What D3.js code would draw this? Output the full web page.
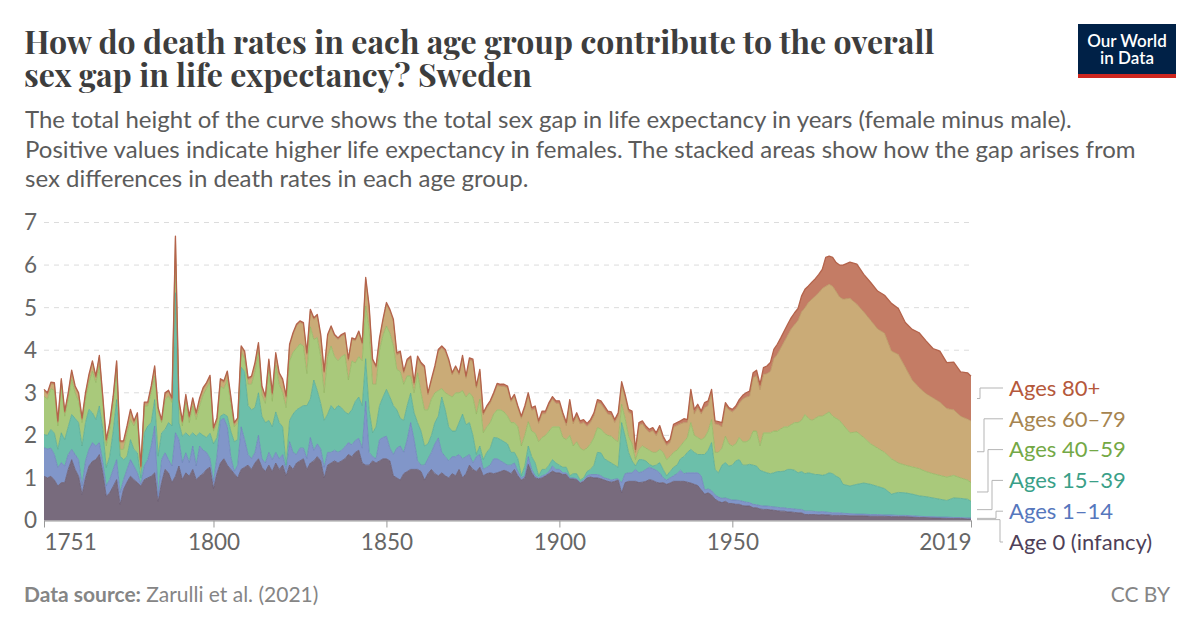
<!DOCTYPE html>
<html>
<head>
<meta charset="utf-8">
<script src="https://cdn.jsdelivr.net/npm/d3@7"></script>
<style>
  body { margin: 0; background: #fff; }
  svg text { font-family: Lato, "Noto Sans", sans-serif; }
</style>
</head>
<body>
<svg id="chart" width="1200" height="628"></svg>
<script>
// years: one value per year up to 1981, then every second year
var years = d3.range(1751, 1982).concat([1982, 1984, 1986, 1988, 1990, 1992, 1994, 1996, 1998, 2000,
  2002, 2004, 2006, 2008, 2010, 2012, 2014, 2016, 2018, 2019]);

// contribution to the gap (years), per age group
var age0 = [
  1.04,1.0,1.04,.95,.81,.89,.89,1.2,1.43,1.2,
  1.04,.61,1.0,1.28,1.39,1.43,1.55,1.12,.57,.65,
  .8,.96,.38,.73,.9,1.04,.96,.89,.81,.96,
  1.0,1.04,1.12,.45,.89,1.2,1.12,.89,1.04,1.28,
  .96,1.12,1.04,1.2,.96,1.04,1.1,1.2,1.25,.75,
  1.1,1.35,1.45,1.3,1.2,1.1,1.0,1.2,1.25,1.3,
  1.2,1.35,1.45,1.25,1.15,1.3,1.15,1.35,1.2,1.3,
  1.05,1.3,1.2,1.35,1.4,1.45,1.2,1.35,1.4,1.5,
  1.4,1.0,1.3,1.35,1.4,1.35,1.4,1.45,1.55,1.5,
  1.6,1.65,1.35,1.3,1.3,1.4,1.35,1.4,1.45,1.45,
  1.4,1.05,1.0,.95,1.1,1.15,1.2,1.2,1.2,1.15,
  .95,1.1,1.2,1.1,1.05,1.12,1.05,1.0,1.1,1.05,
  1.2,1.0,1.1,1.3,1.2,1.15,1.25,1.05,1.1,1.12,
  1.1,1.12,1.15,1.18,1.15,1.1,1.2,1.05,.95,1.0,
  1.32,1.12,1.0,.98,1.0,1.05,1.1,1.16,1.12,1.12,
  1.08,1.08,.98,.98,.96,.88,.92,1.0,1.02,1.0,
  1.0,.98,.95,.92,.9,.92,.95,.65,.89,.92,
  .92,.92,.89,.9,.92,.96,.94,.9,.88,.89,
  .85,.88,.92,.92,.92,.92,.9,.88,.85,.82,
  .72,.62,.65,.6,.5,.45,.42,.45,.4,.4,
  .38,.38,.35,.34,.34,.3,.3,.27,.26,.26,
  .25,.24,.23,.22,.22,.2,.2,.19,.18,.18,
  .14,.14,.14,.14,.13,.14,.13,.13,.12,.12,.12,
  .12,.11,.11,.11,.1,.1,.1,.09,.09,.09,.08,.07,.07,.06,.06,.05,.05,.05,.04,.04
];
var age1to14 = [
  .67,.68,.66,.6,.43,.47,.39,.35,.24,.35,
  .39,.2,.4,.39,.44,.32,.28,.24,.24,.31,
  .4,.47,.27,.23,.3,.39,.32,.23,.04,.32,
  .43,.71,1.1,.12,.54,.39,.31,.39,1.02,.62,
  .4,.47,.32,.55,.32,.71,.55,.4,.2,.15,
  .4,1.0,.95,.9,.3,.05,.3,1.0,.65,.25,
  .25,.25,.55,.2,.2,.3,.28,.25,.25,.25,
  .15,.55,.4,.2,.3,.25,.25,.6,.25,.3,
  .28,.25,.3,.25,.25,.25,.25,.28,.28,.28,
  .28,.28,.35,1.5,.3,.1,.1,.5,.5,.53,
  .3,.5,.7,.8,.5,.75,1.1,.7,.2,.15,
  .35,.35,.4,.7,.89,.48,.45,.4,.4,.45,
  .35,.45,.4,.25,.15,.35,.3,.15,.15,.18,
  .35,.33,.25,.17,.15,.2,.15,.1,.05,.05,
  .18,.08,.05,.02,.05,.03,.05,.12,.08,.08,
  .04,.04,.02,.02,.02,.02,.03,.05,.06,.08,
  .08,.07,.05,.06,.05,.05,.03,.24,.21,.2,
  .2,.28,.23,.25,.28,.29,.28,.28,.24,.11,
  .1,.12,.13,.18,.26,.18,.22,.24,.27,.3,
  .33,.1,.09,.1,.1,.1,.1,.08,.1,.08,
  .1,.09,.1,.09,.08,.08,.07,.08,.08,.08,
  .08,.08,.08,.08,.08,.08,.08,.08,.08,.08,
  .08,.08,.08,.07,.07,.07,.07,.06,.06,.06,.06,
  .05,.05,.04,.04,.04,.04,.03,.04,.03,.03,.03,.03,.02,.03,.02,.03,.02,.02,.02,.02
];
var age15to39 = [
  .31,.32,.44,.5,.43,.7,.62,.65,.82,.85,
  .87,.94,.9,.94,.7,.62,.86,.78,.43,.55,
  .9,1.41,.86,.47,.3,.47,.39,.47,.15,.78,
  .79,.55,.62,.94,.63,.55,.87,.94,3.29,.4,
  .62,.47,.62,.31,.7,.31,.35,.35,.6,.9,
  .45,.1,.1,.25,.6,.7,.6,1.4,1.6,1.15,
  1.15,1.05,1.0,1.0,.95,.75,.77,.95,.85,.65,
  .1,.5,.9,1.05,.95,1.0,1.25,.9,1.65,1.25,
  1.07,1.1,.9,1.1,.95,1.1,1.0,.82,.67,.82,
  .92,.97,1.0,1.0,1.0,.56,.75,.8,.95,1.1,
  1.2,1.15,.9,.65,.75,.8,.69,.63,.9,.8,
  .45,.35,.4,.5,.51,1.3,1.1,.8,.6,.6,
  .75,1.05,.75,.75,.65,.05,.2,.23,.35,.4,
  .5,.49,.5,.5,.5,.3,.25,.3,.05,.23,
  .25,.3,.3,.05,.15,.12,.15,.15,.15,.1,
  .13,.13,.05,.1,.12,.05,.05,.1,.12,.22,
  .52,.54,.45,.42,.4,.33,.27,1.41,.88,.48,
  .28,.08,.31,.28,.2,.07,.06,.12,.24,.2,
  .1,.15,.2,.2,.27,.4,.48,.55,.48,.43,
  .5,.83,.91,1.13,.6,.57,.78,.83,.78,.82,
  .92,.96,.85,.87,.9,.92,.91,.83,.81,.78,
  .77,.8,.84,.85,.86,.92,.92,.91,.86,.89,
  .88,.9,.88,.87,.88,.85,.88,.93,.92,.86,.82,
  .68,.65,.7,.73,.71,.66,.62,.49,.54,.53,.51,.48,.47,.44,.42,.39,.46,.45,.44,.39
];
var age40to59 = [
  .9,.85,.96,1.0,.55,1.1,.55,.65,.82,.6,
  .5,.55,.55,.63,.98,.87,.94,.63,.51,.63,
  .65,.71,.16,.24,.55,.47,.55,.82,.2,.63,
  .47,.7,.55,1.02,.24,.7,.62,.55,.9,.39,
  .24,.71,.32,.63,.39,.63,.95,1.15,1.2,.3,
  .35,.7,.6,.85,.65,.35,.4,.35,.3,.5,
  .6,.85,.95,.5,.45,1.2,.6,1.1,.9,.8,
  1.35,1.4,1.45,1.45,1.5,1.4,.75,1.7,.95,1.25,
  1.1,.65,1.35,1.4,1.25,1.05,1.2,1.35,.8,1.15,
  .9,.95,1.05,1.24,1.9,1.14,1.0,1.3,1.45,1.49,
  1.5,1.4,.95,1.1,.85,.7,.4,.47,1.17,.9,
  .85,.8,.85,.7,.6,.2,.4,.75,.8,.9,
  .7,.55,.65,.7,.9,.95,1.1,.63,.6,.6,
  .55,.66,.7,.7,.65,.7,.7,.75,.7,.72,
  .57,.6,.7,.8,.75,.8,.8,.77,.85,.9,
  .7,.65,.95,.65,.75,.75,.65,.55,.6,.65,
  .58,.56,.6,.6,.63,.6,.6,.43,.42,.38,
  .4,.15,.24,.32,.3,.33,.32,.3,.31,.4,
  .38,.35,.35,.35,.3,.35,.35,.63,.4,.4,
  .35,.4,.45,.54,.4,.48,.4,.62,.52,.45,
  .4,.52,.55,.55,.58,.8,.82,.57,.91,.94,
  .96,.98,.95,1.0,1.04,1.0,1.05,1.12,1.18,1.2,
  1.39,1.28,1.25,1.32,1.37,1.39,1.42,1.43,1.35,1.36,1.35,
  1.4,1.25,1.23,1.07,.95,.9,.85,.83,.69,.65,.64,.64,.59,.57,.56,.55,.53,.48,.45,.44
];
var age60to79 = [
  .12,.11,.11,.15,.08,.13,.08,.11,.18,.12,
  .16,.07,.11,.15,.2,.11,.21,.11,.11,.12,
  .13,.16,.16,.16,.13,.2,.08,.08,.04,.05,
  .05,.12,.2,.08,.03,.12,.1,.07,.39,.11,
  .08,.15,.11,.15,.12,.15,.13,.1,.12,.04,
  .07,.14,.14,.17,.13,.06,.07,.11,.14,.11,
  .15,.17,.19,.17,.13,.2,.16,.25,.23,.28,
  .24,.35,.42,.52,.5,.51,.45,.37,.47,.5,
  .48,.47,.48,.43,.48,.5,.48,.47,.46,.5,
  .52,.56,.39,.63,.5,.55,.39,.25,.34,.51,
  .51,.58,.34,.43,.26,.34,.42,.19,.34,.66,
  .98,.35,.42,.58,.92,.95,.97,.79,.52,.58,
  .42,.78,.44,.77,.84,.61,.65,.42,.44,.46,
  .45,.57,.55,.6,.66,.49,.61,.44,.65,.63,
  .62,.49,.58,.43,.56,.51,.61,.65,.55,.55,
  .51,.33,.77,.52,.61,.57,.65,.51,.5,.51,
  .59,.59,.57,.5,.5,.4,.61,.46,.49,.56,
  .7,.17,.56,.52,.45,.42,.51,.39,.49,.31,
  .33,.33,.59,.58,.52,.45,.35,.7,.5,.7,
  .6,.7,.6,.63,.67,.65,.5,.71,.8,.8,
  .82,.8,1.0,1.05,1.02,1.25,1.3,1.32,1.37,1.39,
  1.44,1.7,1.8,1.9,2.0,2.15,2.25,2.3,2.4,2.55,
  2.51,2.72,2.85,2.87,2.9,3.0,3.0,3.0,3.05,2.98,2.9,
  2.95,3.16,3.0,2.95,2.9,2.8,2.8,2.53,2.55,2.3,2.04,1.9,1.83,1.78,1.72,1.61,1.54,1.45,1.43,1.45
];
var age80plus = [
  .04,.04,.04,.04,.04,.04,.04,.04,.04,.04,
  .04,.04,.04,.04,.04,.04,.04,.04,.04,.04,
  .04,.04,.04,.04,.04,.04,.04,.04,.04,.04,
  .04,.04,.04,.04,.04,.04,.04,.04,.04,.04,
  .04,.04,.04,.04,.04,.04,.04,.04,.04,.04,
  .04,.04,.04,.04,.04,.04,.04,.04,.04,.04,
  .04,.04,.04,.04,.04,.04,.04,.04,.04,.04,
  .04,.04,.04,.04,.04,.04,.04,.04,.04,.04,
  .04,.04,.04,.04,.04,.04,.04,.04,.04,.04,
  .04,.04,.04,.04,.04,.04,.04,.04,.04,.04,
  .05,.05,.05,.05,.05,.05,.05,.05,.05,.05,
  .05,.05,.05,.05,.05,.05,.05,.05,.05,.05,
  .05,.05,.05,.05,.05,.05,.05,.05,.05,.05,
  .05,.05,.05,.05,.05,.05,.05,.05,.05,.06,
  .06,.06,.06,.06,.06,.06,.06,.06,.06,.06,
  .07,.07,.07,.07,.07,.07,.07,.07,.07,.07,
  .07,.07,.07,.07,.07,.07,.07,.07,.07,.07,
  .07,.07,.07,.07,.07,.07,.07,.07,.07,.07,
  .07,.07,.07,.07,.07,.09,.07,.08,.11,.08,
  .07,.12,.11,.08,.07,.07,.1,.08,.05,.06,
  .07,.09,.09,.1,.12,.12,.13,.13,.16,.18,
  .21,.22,.24,.24,.25,.26,.26,.28,.28,.37,
  .43,.39,.4,.41,.43,.45,.68,.66,.68,.68,.75,
  .8,.85,.94,.88,.89,.89,.89,1.12,1.08,1.05,1.19,1.29,1.24,1.16,1.2,1.08,1.12,1.04,1.09,1.05
];

var groupNames = ["Age 0 (infancy)", "Ages 1\u201314", "Ages 15\u201339", "Ages 40\u201359", "Ages 60\u201379", "Ages 80+"];
var yTicks = [0, 1, 2, 3, 4, 5, 6, 7];
var xTicks = [1751, 1800, 1850, 1900, 1950, 2019];

var keys = ["a0", "a1", "a15", "a40", "a60", "a80"];
var fills = ["#786b7d", "#8196c9", "#6cbfaa", "#a9c97b", "#caab77", "#c47c65"];
var strokes = ["#695b6e", "#6e83bb", "#58ab95", "#93b763", "#b8945f", "#b4634b"];
var labelColors = ["#4f3f58", "#5677bd", "#3a9f88", "#74a845", "#a6844f", "#b5583b"];

var table = years.map(function(yr, i) {
  return {
    year: yr,
    a0: age0[i],
    a1: age1to14[i],
    a15: age15to39[i],
    a40: age40to59[i],
    a60: age60to79[i],
    a80: age80plus[i]
  };
});

var svg = d3.select("#chart");

var plotLeft = 44, plotRight = 971, plotTop = 222.5, plotBottom = 520.5;

var x = d3.scaleLinear().domain([1751, 2019]).range([plotLeft, plotRight]);
var y = d3.scaleLinear().domain([0, 7]).range([plotBottom, plotTop]);

// title + subtitle
var title = svg.append("text")
  .style("font-family", "'Playfair Display', 'Liberation Serif', serif")
  .style("font-size", "32px")
  .style("font-weight", "700")
  .style("fill", "#3d3d3d");
title.append("tspan").attr("x", 24).attr("y", 54).text("How do death rates in each age group contribute to the overall");
title.append("tspan").attr("x", 24).attr("y", 87).text("sex gap in life expectancy? Sweden");

var subLines = [
  "The total height of the curve shows the total sex gap in life expectancy in years (female minus male).",
  "Positive values indicate higher life expectancy in females. The stacked areas show how the gap arises from",
  "sex differences in death rates in each age group."
];
svg.selectAll(".sub")
  .data(subLines)
  .enter()
  .append("text")
  .attr("class", "sub")
  .attr("x", 25)
  .attr("y", function(d, i) { return 128 + i * 29.5; })
  .style("font-size", "24px")
  .style("fill", "#5b5b5b")
  .text(function(d) { return d; });

// logo
var logo = svg.append("g");
logo.append("rect").attr("x", 1078).attr("y", 24).attr("width", 98).attr("height", 54).attr("fill", "#002147");
logo.append("rect").attr("x", 1078).attr("y", 74).attr("width", 98).attr("height", 4).attr("fill", "#ce261e");
logo.append("text").attr("x", 1127).attr("y", 46.5).attr("text-anchor", "middle")
  .style("font-size", "17px").style("font-weight", "600").style("fill", "#fff").text("Our World");
logo.append("text").attr("x", 1127).attr("y", 64).attr("text-anchor", "middle")
  .style("font-size", "17px").style("font-weight", "600").style("fill", "#fff").text("in Data");

// gridlines + y labels
svg.append("g")
  .selectAll("line")
  .data(yTicks.filter(function(d) { return d > 0; }))
  .enter()
  .append("line")
  .attr("x1", plotLeft)
  .attr("x2", plotRight)
  .attr("y1", function(d) { return y(d); })
  .attr("y2", function(d) { return y(d); })
  .attr("stroke", "#dcdcdc")
  .attr("stroke-dasharray", "5,5");

svg.append("g")
  .selectAll("text")
  .data(yTicks)
  .enter()
  .append("text")
  .attr("x", 24)
  .attr("y", function(d) { return y(d); })
  .attr("dy", "0.35em")
  .style("font-size", "22.5px")
  .style("fill", "#666")
  .text(function(d) { return d; });

// stacked areas
var series = d3.stack().keys(keys)(table);

var area = d3.area()
  .x(function(d) { return x(d.data.year); })
  .y0(function(d) { return y(d[0]); })
  .y1(function(d) { return y(d[1]); });

var topLine = d3.line()
  .x(function(d) { return x(d.data.year); })
  .y(function(d) { return y(d[1]); });

svg.append("g")
  .selectAll("path")
  .data(series)
  .enter()
  .append("path")
  .attr("d", area)
  .attr("fill", function(d, i) { return fills[i]; });

svg.append("g")
  .selectAll("path")
  .data(series)
  .enter()
  .append("path")
  .attr("d", topLine)
  .attr("fill", "none")
  .attr("stroke", function(d, i) { return strokes[i]; })
  .attr("stroke-width", function(d, i) { return i === 5 ? 1.3 : 0.8; })
  .attr("stroke-linejoin", "round");

// x axis
var xAxis = d3.axisBottom(x).tickValues(xTicks).tickFormat(d3.format("d")).tickSize(7).tickSizeOuter(0);
var gx = svg.append("g")
  .attr("transform", "translate(0," + plotBottom + ")")
  .call(xAxis);
gx.select(".domain").attr("stroke", "#999");
gx.selectAll(".tick line").attr("stroke", "#999");
gx.selectAll(".tick text")
  .attr("y", 14)
  .style("font-family", "Lato, 'Noto Sans', sans-serif")
  .style("font-size", "22.5px")
  .style("fill", "#666")
  .attr("text-anchor", function(d) { return d === 1751 ? "start" : (d === 2019 ? "end" : "middle"); });

// legend labels at the right end
var last = series.map(function(s) { return s[s.length - 1]; });
var mids = last.map(function(d) { return y((d[0] + d[1]) / 2); });
var order = d3.range(keys.length).reverse(); // top to bottom
var spacing = 30.8, maxY = 542;
var pos = order.map(function(i) { return mids[i]; });
for (var k = 1; k < pos.length; k++) pos[k] = Math.max(pos[k], pos[k - 1] + spacing);
pos[pos.length - 1] = Math.min(pos[pos.length - 1], maxY);
for (var k = pos.length - 2; k >= 0; k--) pos[k] = Math.min(pos[k], pos[k + 1] - spacing);

var legend = svg.append("g");
order.forEach(function(i, k) {
  var elbow = 980 + k * 4;
  legend.append("path")
    .attr("d", "M" + (plotRight + 6) + "," + mids[i] + "H" + elbow + "V" + pos[k] + "H" + 1003)
    .attr("fill", "none")
    .attr("stroke", "#b5b5b5")
    .attr("stroke-width", 1);
  legend.append("text")
    .attr("x", 1009)
    .attr("y", pos[k])
    .attr("dy", "0.35em")
    .style("font-size", "22px")
    .style("fill", labelColors[i])
    .text(groupNames[i]);
});

// footer
var src = svg.append("text").attr("x", 24).attr("y", 602).style("font-size", "21px").style("fill", "#858585");
src.append("tspan").style("font-weight", "700").text("Data source: ");
src.append("tspan").text("Zarulli et al. (2021)");
svg.append("text").attr("x", 1170).attr("y", 602).attr("text-anchor", "end")
  .style("font-size", "21px").style("fill", "#858585").text("CC BY");
</script>
</body>
</html>
